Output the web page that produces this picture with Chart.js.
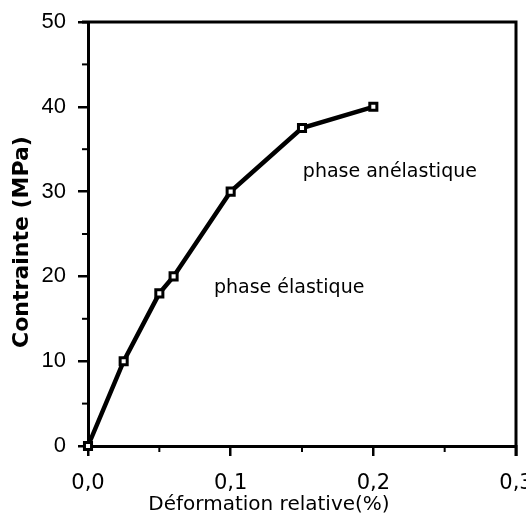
<!DOCTYPE html>
<html>
<head>
<meta charset="utf-8">
<script src="https://cdn.jsdelivr.net/npm/chart.js@4"></script>
<style>
  html, body { margin: 0; padding: 0; background: #fff; }
  #wrap { width: 526px; height: 518px; }
</style>
</head>
<body>
<div id="wrap"><canvas id="c" width="526" height="518"></canvas></div>
<script>
// strain (%) vs stress (MPa)
const strain = [0, 0.025, 0.05, 0.06, 0.1, 0.15, 0.2];
const stress = [0, 10, 18, 20, 30, 37.5, 40];
const xTicks = [0, 0.1, 0.2, 0.3];
const yTicks = [0, 10, 20, 30, 40, 50];
const xMinor = [0.05, 0.15, 0.25];
const yMinor = [5, 15, 25, 35, 45];

const tickFont = "'DejaVu Sans', sans-serif";

// extra drawing: frame, minor ticks, axis titles, phase labels
const extras = {
  id: 'extras',
  afterDraw(chart) {
    const ctx = chart.ctx;
    const a = chart.chartArea;
    const xs = chart.scales.x, ys = chart.scales.y;
    ctx.save();
    ctx.strokeStyle = '#000';
    ctx.lineWidth = 3;
    ctx.beginPath();
    ctx.moveTo(a.left - 6, a.top);
    ctx.lineTo(a.right, a.top);
    ctx.lineTo(a.right, a.bottom + 10);
    ctx.stroke();

    ctx.lineWidth = 2;
    xMinor.forEach(v => {
      const px = xs.getPixelForValue(v);
      ctx.beginPath(); ctx.moveTo(px, a.bottom); ctx.lineTo(px, a.bottom + 6); ctx.stroke();
    });
    yMinor.forEach(v => {
      const py = ys.getPixelForValue(v);
      ctx.beginPath(); ctx.moveTo(a.left, py); ctx.lineTo(a.left - 6, py); ctx.stroke();
    });

    ctx.fillStyle = '#000';
    ctx.textAlign = 'center';
    ctx.textBaseline = 'middle';
    ctx.font = "20px " + tickFont;
    ctx.fillText('Déformation relative(%)', 269, 505);

    ctx.font = "19px " + tickFont;
    ctx.fillText('phase élastique', xs.getPixelForValue(0.141), ys.getPixelForValue(18.6));
    ctx.fillText('phase anélastique', xs.getPixelForValue(0.2116), ys.getPixelForValue(32.3));

    ctx.translate(22, 242);
    ctx.rotate(-Math.PI / 2);
    ctx.font = "bold 22px " + tickFont;
    ctx.fillText('Contrainte (MPa)', 0, 0);
    ctx.restore();
  }
};

new Chart(document.getElementById('c'), {
  type: 'scatter',
  data: {
    datasets: [{
      data: strain.map((x, i) => ({ x: x, y: stress[i] })),
      showLine: true,
      borderColor: '#000',
      borderWidth: 4.5,
      pointStyle: 'rect',
      pointRadius: 5,
      pointBorderWidth: 3,
      pointBackgroundColor: '#fff',
      pointBorderColor: '#000',
      clip: false
    }]
  },
  options: {
    responsive: false,
    animation: false,
    layout: { padding: { top: 22, right: 10, left: 0, bottom: 0 } },
    plugins: { legend: { display: false }, tooltip: { enabled: false } },
    scales: {
      x: {
        type: 'linear',
        min: 0, max: 0.3,
        afterBuildTicks: s => { s.ticks = xTicks.map(v => ({ value: v })); },
        afterFit: s => { s.height = 72; s.paddingLeft = 0; s.paddingRight = 0; },
        ticks: {
          color: '#000',
          font: { family: tickFont, size: 21 },
          padding: 15,
          maxRotation: 0,
          callback: v => v.toFixed(1).replace('.', ',')
        },
        grid: { drawOnChartArea: false, drawTicks: true, tickLength: 10, color: '#000', lineWidth: 2.5 },
        border: { color: '#000', width: 3 }
      },
      y: {
        type: 'linear',
        min: 0, max: 50,
        afterBuildTicks: s => { s.ticks = yTicks.map(v => ({ value: v })); },
        afterFit: s => { s.width = 88; s.paddingTop = 0; s.paddingBottom = 0; },
        ticks: {
          color: '#000',
          font: { family: "'Liberation Sans', sans-serif", size: 22 },
          padding: 12
        },
        grid: { drawOnChartArea: false, drawTicks: true, tickLength: 10, color: '#000', lineWidth: 2.5 },
        border: { color: '#000', width: 3 }
      }
    }
  },
  plugins: [extras]
});
</script>
</body>
</html>
